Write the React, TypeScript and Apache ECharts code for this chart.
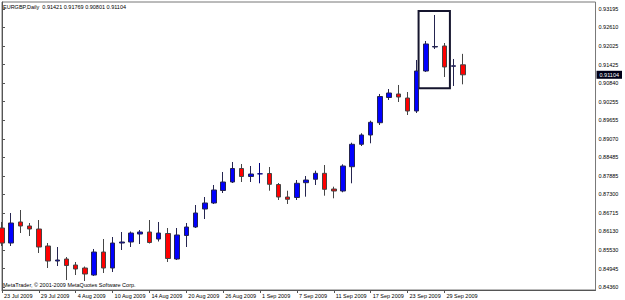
import React, { useEffect, useRef } from "react";
import * as echarts from "echarts";

const dates = [
  "23 Jul 2009", "24 Jul 2009", "27 Jul 2009", "28 Jul 2009", "29 Jul 2009", "30 Jul 2009", "31 Jul 2009",
  "3 Aug 2009", "4 Aug 2009", "5 Aug 2009", "6 Aug 2009", "7 Aug 2009", "10 Aug 2009", "11 Aug 2009",
  "12 Aug 2009", "13 Aug 2009", "14 Aug 2009", "17 Aug 2009", "18 Aug 2009", "19 Aug 2009", "20 Aug 2009",
  "21 Aug 2009", "24 Aug 2009", "25 Aug 2009", "26 Aug 2009", "27 Aug 2009", "28 Aug 2009", "31 Aug 2009",
  "1 Sep 2009", "2 Sep 2009", "3 Sep 2009", "4 Sep 2009", "7 Sep 2009", "8 Sep 2009", "9 Sep 2009",
  "10 Sep 2009", "11 Sep 2009", "14 Sep 2009", "15 Sep 2009", "16 Sep 2009", "17 Sep 2009", "18 Sep 2009",
  "21 Sep 2009", "22 Sep 2009", "23 Sep 2009", "24 Sep 2009", "25 Sep 2009", "28 Sep 2009", "29 Sep 2009",
  "30 Sep 2009", "1 Oct 2009",
];

const opens = [
  0.86235, 0.85758, 0.86426, 0.86299, 0.86203, 0.85663, 0.85186, 0.8525, 0.85059, 0.84964,
  0.84741, 0.85472, 0.84964, 0.85758, 0.8579, 0.86044, 0.86108, 0.85885, 0.8606, 0.8525,
  0.85997, 0.86267, 0.86839, 0.8703, 0.87427, 0.87697, 0.88126, 0.87872, 0.87957, 0.87967,
  0.87617, 0.8722, 0.87204, 0.87675, 0.87783, 0.87973, 0.87474, 0.87411, 0.88183, 0.88895,
  0.89191, 0.89581, 0.90382, 0.90494, 0.90366, 0.89953, 0.91224, 0.91987, 0.92019, 0.91374,
  0.91421,
];
const closes = [
  0.85758, 0.86394, 0.86299, 0.86203, 0.85631, 0.85186, 0.85218, 0.85043, 0.84932, 0.84773,
  0.85472, 0.84964, 0.85758, 0.8579, 0.86076, 0.86108, 0.85774, 0.86076, 0.85266, 0.86013,
  0.86267, 0.86712, 0.8703, 0.87443, 0.87697, 0.88126, 0.87872, 0.87951, 0.87957, 0.87624,
  0.8722, 0.87147, 0.87656, 0.8776, 0.87973, 0.87465, 0.87411, 0.88205, 0.88895, 0.89191,
  0.89594, 0.90414, 0.90525, 0.90398, 0.89953, 0.91224, 0.92083, 0.92003, 0.91352, 0.9139,
  0.91104,
];
const lows = [
  0.85663, 0.85663, 0.86076, 0.85981, 0.85441, 0.84964, 0.85027, 0.84582, 0.84741, 0.84551,
  0.8471, 0.84805, 0.84837, 0.85536, 0.85631, 0.85727, 0.85742, 0.85806, 0.85155, 0.85218,
  0.85631, 0.86235, 0.86521, 0.86998, 0.87347, 0.87665, 0.87697, 0.87697, 0.87656, 0.8742,
  0.87125, 0.86998, 0.87125, 0.8723, 0.87602, 0.87262, 0.87179, 0.8737, 0.87656, 0.88841,
  0.88927, 0.89508, 0.90303, 0.90239, 0.89826, 0.8989, 0.91193, 0.91924, 0.91034, 0.90748,
  0.90801,
];
const highs = [
  0.86426, 0.86712, 0.86807, 0.86394, 0.86489, 0.85758, 0.85631, 0.85313, 0.85155, 0.85011,
  0.85568, 0.85885, 0.85949, 0.86108, 0.86124, 0.86171, 0.86489, 0.86426, 0.86235, 0.86235,
  0.86394, 0.86966, 0.8722, 0.87602, 0.88015, 0.88333, 0.88269, 0.88205, 0.88301, 0.88174,
  0.87665, 0.8742, 0.8776, 0.87888, 0.88056, 0.88237, 0.87548, 0.88259, 0.88946, 0.89245,
  0.89645, 0.90494, 0.90652, 0.9078, 0.90557, 0.91574, 0.92178, 0.93004, 0.92114, 0.91606,
  0.91769,
];

const priceTicks = [
  0.93195, 0.9261, 0.92025, 0.91425, 0.9084, 0.90255, 0.89655, 0.8907, 0.88485, 0.87885,
  0.873, 0.86715, 0.8613, 0.8553, 0.84945, 0.8436,
];
const dateTickIndices = [0, 4, 8, 12, 16, 20, 24, 28, 32, 36, 40, 44, 48];
const lastPrice = 0.91104;
const boxBars = [45.2, 48.6];
const boxPrices = [0.93131, 0.90675];
const priceRange = [0.84265, 0.93417];
const barRange = [0, 64.4];
const headerText = "EURGBP,Daily  0.91421 0.91769 0.90801 0.91104";
const copyrightText = "MetaTrader, \u00a9 2001-2009 MetaQuotes Software Corp.";

const FONT = "Liberation Sans";
const FS = 5.5;

export default function App() {
  const ref = useRef<HTMLDivElement>(null);
  useEffect(() => {
    if (!ref.current) return;
    const chart = echarts.init(ref.current, null, { renderer: "svg" });
    const data = dates.map((_, i) => [i, opens[i], closes[i], lows[i], highs[i]]);
    chart.setOption({
      animation: false,
      backgroundColor: "#ffffff",
      textStyle: { fontFamily: FONT },
      title: [
        {
          text: headerText,
          left: 3,
          top: 4,
          padding: 0,
          textStyle: { fontSize: FS, fontWeight: "normal", color: "#000", fontFamily: FONT },
        },
        {
          text: copyrightText,
          left: 3,
          top: 282,
          padding: 0,
          textStyle: { fontSize: FS, fontWeight: "normal", color: "#000", fontFamily: FONT },
        },
      ],
      grid: {
        left: 2,
        right: 22,
        top: 2,
        bottom: 10,
        show: true,
        borderColor: "#777",
        borderWidth: 1,
        backgroundColor: "#ffffff",
      },
      xAxis: {
        type: "value",
        min: barRange[0],
        max: barRange[1],
        splitLine: { show: false },
        axisLine: { show: true, lineStyle: { color: "#555", width: 1 } },
        axisTick: { show: true, length: 3, customValues: dateTickIndices, lineStyle: { color: "#555" } },
        axisLabel: {
          show: true,
          customValues: dateTickIndices,
          formatter: (v: number) => dates[Math.round(v)] ?? "",
          align: "left",
          padding: [0, 0, 0, 2],
          margin: 3,
          fontSize: FS,
          color: "#000",
          fontFamily: FONT,
        },
      },
      yAxis: [
        {
          type: "value",
          position: "right",
          min: priceRange[0],
          max: priceRange[1],
          splitLine: { show: false },
          axisLine: { show: true, lineStyle: { color: "#555", width: 1 } },
          axisTick: { show: true, length: 3, inside: false, customValues: priceTicks, lineStyle: { color: "#555" } },
          axisLabel: {
            show: true,
            customValues: priceTicks,
            formatter: (v: number) => v.toFixed(5),
            margin: 3,
            fontSize: FS,
            color: "#000",
            fontFamily: FONT,
          },
        },
        {
          type: "value",
          position: "right",
          offset: 0,
          min: priceRange[0],
          max: priceRange[1],
          splitLine: { show: false },
          axisLine: { show: false },
          axisTick: { show: false },
          axisLabel: {
            show: true,
            customValues: [lastPrice],
            formatter: (v: number) => v.toFixed(5),
            margin: 1,
            backgroundColor: "#000018",
            color: "#ffffff",
            padding: [1, 3, 1, 3],
            fontSize: FS,
            fontFamily: FONT,
          },
        },
      ],
      series: [
        {
          type: "candlestick",
          data,
          barWidth: 5,
          clip: true,
          yAxisIndex: 0,
          itemStyle: {
            color: "#0000ff",
            color0: "#ff0000",
            borderColor: "#252550",
            borderColor0: "#454545",
            borderColorDoji: "#000080",
            borderWidth: 1,
          },
          markArea: {
            silent: true,
            itemStyle: { color: "rgba(0,0,0,0)", borderColor: "#15152e", borderWidth: 2 },
            data: [[{ coord: [boxBars[0], boxPrices[0]] }, { coord: [boxBars[1], boxPrices[1]] }]],
          },
        },
      ],
    });
    return () => chart.dispose();
  }, []);
  return <div ref={ref} style={{ position: "fixed", left: 0, top: 0, width: 625, height: 300 }} />;
}
